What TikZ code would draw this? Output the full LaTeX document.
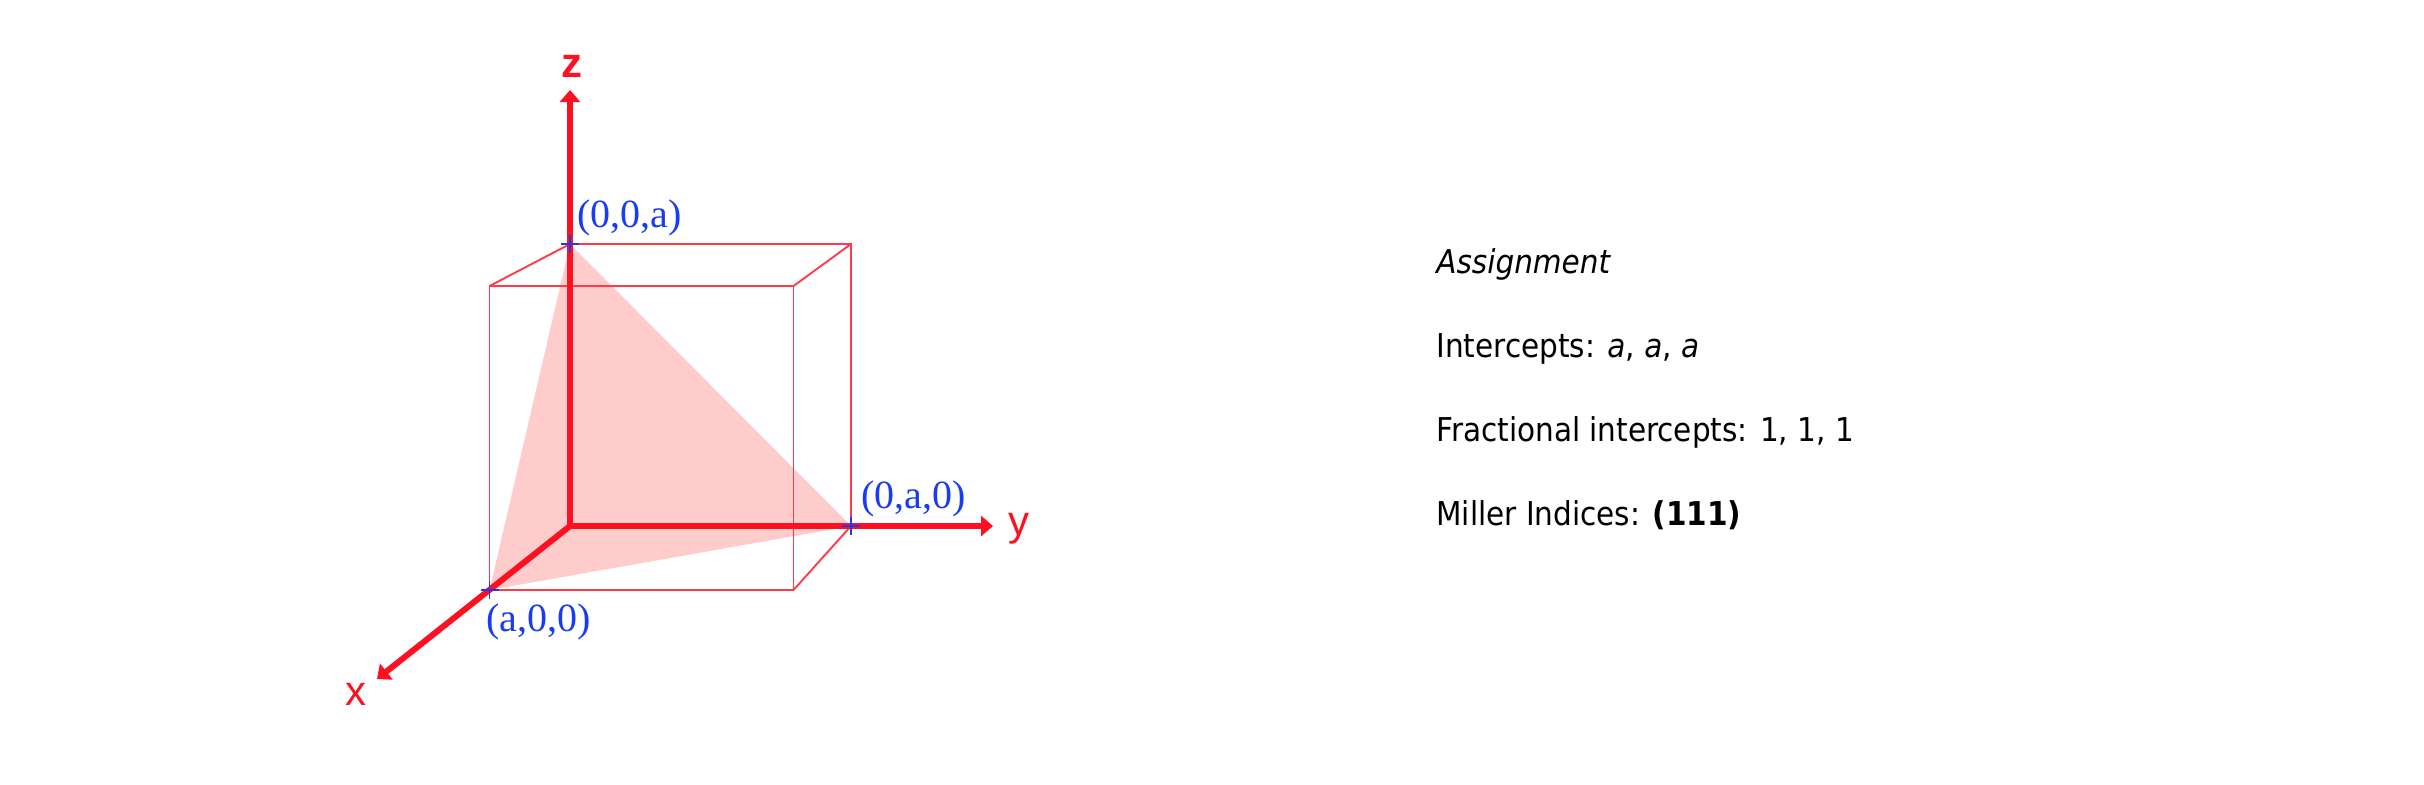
\documentclass[tikz,border=0pt]{standalone}
\usepackage{fontspec}
\setmainfont{DejaVu Sans Condensed}
\newfontfamily\axisfont{Liberation Sans}
\newfontfamily\pointfont{Liberation Serif}
\usetikzlibrary{calc,arrows.meta}

\definecolor{axisRed}{HTML}{FF1020}
\definecolor{boxRed}{HTML}{FF3A4A}
\definecolor{planePink}{HTML}{FFCCCC}
\definecolor{pointBlue}{HTML}{1A3CF0}

\begin{document}
\begin{tikzpicture}[>={Triangle[length=6pt,width=10pt]}, x=0.5pt, y=-0.5pt]

  \tikzstyle{axis} = [axisRed, line width=3pt, ->];
  \tikzstyle{boxEdge} = [boxRed, line width=0.95pt, line join=miter];
  \tikzstyle{crossMark} = [pointBlue, line width=0.7pt];
  \tikzstyle{axisLabel} = [axisRed, inner sep=0, font={\axisfont\fontsize{21pt}{21pt}\selectfont}];
  \tikzstyle{pointLabel} = [pointBlue, inner sep=0, anchor=base west, font={\pointfont\fontsize{20pt}{21pt}\selectfont}];
  \tikzstyle{noteText} = [black, inner sep=0, anchor=base west, font={\fontsize{16.4pt}{18pt}\selectfont}];

  \useasboundingbox (0,0) rectangle (2424,784);

  \coordinate (origin) at (570,526);
  \coordinate (pointX) at (489.5,590);
  \coordinate (pointY) at (851,526);
  \coordinate (pointZ) at (570,244);
  \coordinate (tipX) at (377,679);
  \coordinate (tipY) at (993,526);
  \coordinate (tipZ) at (570,90);
  \coordinate (frontTL) at (489.5,286);
  \coordinate (frontTR) at (793.5,286);
  \coordinate (frontBR) at (793.5,590);
  \coordinate (backTR) at (851,244);

  % The (111) plane
  \fill[planePink] (pointX) -- (pointY) -- (pointZ) -- cycle;

  % Front face of the cube, then the edges going to the back
  \draw[boxEdge] (pointX) -- (frontTL) -- (frontTR) -- (frontBR) -- cycle;
  \draw[boxEdge] (frontTL) -- (pointZ) -- (backTR) -- (pointY) -- (frontBR);
  \draw[boxEdge] (frontTR) -- (backTR);

  % Axes
  \draw[axis] (origin) -- (tipX);
  \draw[axis] (origin) -- (tipY);
  \draw[axis] (origin) -- (tipZ);

  % Intercepts
  \foreach \corner in {pointX,pointY,pointZ} {
    \draw[crossMark] ($(\corner)+(-9,0)$) -- ($(\corner)+(9,0)$);
    \draw[crossMark] ($(\corner)+(0,-9)$) -- ($(\corner)+(0,9)$);
  }

  \node[axisLabel, name=labelX] at (356,694) {x};
  \node[axisLabel, name=labelY, anchor=base] at (1019,535) {y};
  \node[axisLabel, name=labelZ] at (572,66) {\bfseries z};

  \node[pointLabel, name=labelA] at (486,631) {(a,0,0)};
  \node[pointLabel, name=labelB] at (861,508) {(0,a,0)};
  \node[pointLabel, name=labelC] at (577,227) {(0,0,a)};

  \node[noteText, name=noteA] at (1436,273) {\itshape Assignment};
  \node[noteText, name=noteB] at (1436,357) {Intercepts: \textit{a}, \textit{a}, \textit{a}};
  \node[noteText, name=noteC] at (1436,441) {Fractional intercepts: 1, 1, 1};
  \node[noteText, name=noteD] at (1436,525) {Miller Indices: \textbf{(111)}};

\end{tikzpicture}
\end{document}
